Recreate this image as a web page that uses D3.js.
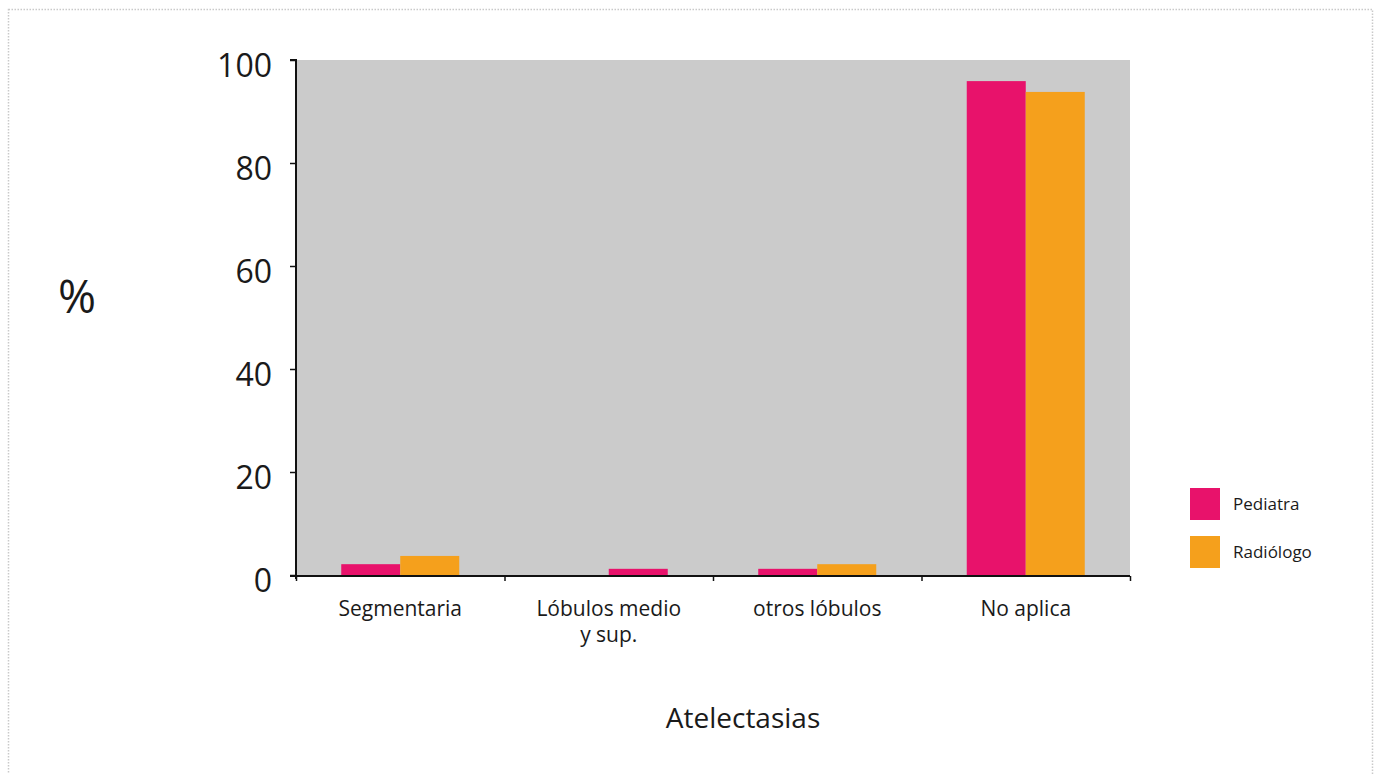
<!DOCTYPE html>
<html>
<head>
<meta charset="utf-8">
<script src="https://cdn.jsdelivr.net/npm/d3@7"></script>
<style>
  html, body { margin: 0; padding: 0; background: #fff; }
  svg { display: block; font-family: "Open Sans", "Noto Sans", sans-serif; }
</style>
</head>
<body>
<svg id="chart" width="1381" height="774"></svg>
<script>
// Atelectasias: percentage of cases by type, as read by the pediatrician and the radiologist
const categories = [["Segmentaria"], ["Lóbulos medio", "y sup."], ["otros lóbulos"], ["No aplica"]];
const seriesNames = ["Pediatra", "Radiólogo"];
const pediatra = [2.1, 1.2, 1.2, 95.9];
const radiologo = [3.7, 0, 2.1, 93.8];
const yTicks = [0, 20, 40, 60, 80, 100];
const colors = ["#e8126b", "#f5a01c"];

const svg = d3.select("#chart");

// dotted frame round the figure
svg.append("rect")
  .attr("x", 8.5).attr("y", 9.5).attr("width", 1364).attr("height", 780)
  .attr("fill", "none").attr("stroke", "#c9c9c9").attr("stroke-width", 1.5)
  .attr("stroke-dasharray", "1.5,1.5");

const m = { left: 296, right: 1130, top: 60, bottom: 575 };

const x = d3.scaleBand().domain(d3.range(categories.length)).range([m.left, m.right]).padding(0);
const inner = d3.scaleBand().domain(seriesNames).range([0, 118]);
const y = d3.scaleLinear().domain([0, 100]).range([m.bottom, m.top]);

// plot background
svg.append("rect")
  .attr("x", m.left).attr("y", m.top)
  .attr("width", m.right - m.left).attr("height", m.bottom - m.top)
  .attr("fill", "#cbcbcb");

// bars
const rows = categories.map((c, i) => [pediatra[i], radiologo[i]]);
rows.forEach((vals, i) => {
  const shown = seriesNames.filter((s, k) => vals[k] > 0);
  vals.forEach((v, k) => {
    if (v <= 0) return;
    // a lone bar takes the second slot of its group
    const slot = shown.length === 1 ? seriesNames[1] : seriesNames[k];
    const gx = x(i) + (x.bandwidth() - 118) / 2;
    svg.append("rect")
      .attr("x", gx + inner(slot))
      .attr("y", y(v))
      .attr("width", inner.bandwidth())
      .attr("height", y(0) - y(v))
      .attr("fill", colors[k]);
  });
});

// y axis
const yAxis = d3.axisLeft(y).tickValues(yTicks).tickSize(6).tickPadding(18);
const gy = svg.append("g").attr("transform", `translate(${m.left},0)`).call(yAxis);
gy.select(".domain").attr("stroke", "#111").attr("stroke-width", 2)
  .attr("d", `M-6,${m.top}H0V${m.bottom + 4}`);
gy.selectAll(".tick line").attr("stroke", "#111").attr("stroke-width", 1.5);
gy.selectAll(".tick text").attr("font-size", 32).attr("fill", "#1a1a1a")
  .attr("font-family", "'Open Sans', sans-serif").attr("dy", "0.5em");

// x axis
const xAxis = d3.axisBottom(d3.scaleLinear().domain([0, 4]).range([m.left, m.right]))
  .tickValues([0, 1, 2, 3, 4]).tickSize(5).tickFormat("");
const gx = svg.append("g").attr("transform", `translate(0,${m.bottom + 1})`).call(xAxis);
gx.select(".domain").attr("stroke", "#111").attr("stroke-width", 2)
  .attr("d", `M${m.left - 6},0H${m.right}`);
gx.selectAll(".tick line").attr("stroke", "#111").attr("stroke-width", 1.5);

// category labels
categories.forEach((lines, i) => {
  const t = svg.append("text")
    .attr("x", x(i) + x.bandwidth() / 2)
    .attr("y", 616)
    .attr("text-anchor", "middle")
    .attr("font-size", 21)
    .attr("fill", "#1a1a1a");
  lines.forEach((ln, j) => {
    t.append("tspan").attr("x", x(i) + x.bandwidth() / 2).attr("dy", j === 0 ? 0 : 26).text(ln);
  });
});

// axis titles
svg.append("text").attr("x", 743).attr("y", 728).attr("text-anchor", "middle")
  .attr("font-size", 28).attr("fill", "#1a1a1a").text("Atelectasias");
svg.append("text").attr("x", 77).attr("y", 313).attr("text-anchor", "middle")
  .attr("font-size", 46).attr("fill", "#1a1a1a").text("%");

// legend
seriesNames.forEach((s, k) => {
  const ly = 488 + k * 48;
  svg.append("rect").attr("x", 1190).attr("y", ly).attr("width", 30).attr("height", 32)
    .attr("fill", colors[k]);
  svg.append("text").attr("x", 1233).attr("y", ly + 16).attr("dy", "0.35em")
    .attr("font-size", 17).attr("fill", "#1a1a1a").text(s);
});
</script>
</body>
</html>
